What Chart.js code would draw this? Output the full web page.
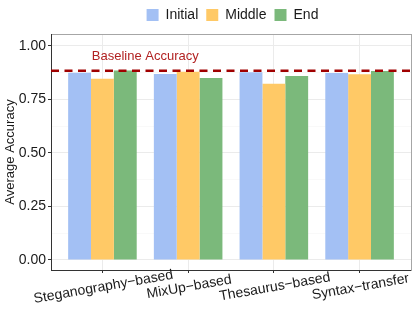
<!DOCTYPE html>
<html>
<head>
<meta charset="utf-8">
<script src="https://cdn.jsdelivr.net/npm/chart.js@4"></script>
<style>
  html, body { margin: 0; padding: 0; background: #fff; }
  #wrap { width: 415px; height: 332px; }
</style>
</head>
<body>
<div id="wrap"><canvas id="chart" width="415" height="332"></canvas></div>
<script>
// data
const categories = ['Steganography\u2212based', 'MixUp\u2212based', 'Thesaurus\u2212based', 'Syntax\u2212transfer'];
const seriesNames = ['Initial', 'Middle', 'End'];
const initialValues = [0.875, 0.869, 0.877, 0.874];
const middleValues = [0.847, 0.880, 0.824, 0.868];
const endValues = [0.885, 0.850, 0.860, 0.883];
const baselineAccuracy = 0.884;
const baselineLabel = 'Baseline Accuracy';
const yTicks = [0, 0.125, 0.25, 0.375, 0.5, 0.625, 0.75, 0.875, 1.0];

const FONT = '"Liberation Sans", Arial, Helvetica, sans-serif';
const colors = ['#a3c0f4', '#ffc966', '#7bb97b'];

function toPoints(values) {
    return values.map((v, i) => ({ x: i, y: v }));
}

// x labels are rotated but centred under the tick, like ggplot
const extraText = {
    id: 'extraText',
    afterLayout(chart) {
        // legend is centred over the panel, not the whole canvas
        chart.legend.left = 54;
    },
    afterDraw(chart) {
        const ctx = chart.ctx;
        const x = chart.scales.x;
        const y = chart.scales.y;
        ctx.save();
        ctx.font = '14px ' + FONT;
        ctx.fillStyle = '#1a1a1a';
        ctx.textAlign = 'center';
        ctx.textBaseline = 'middle';
        categories.forEach((c, i) => {
            ctx.save();
            ctx.translate(x.getPixelForValue(i) + 1, chart.chartArea.bottom + 17);
            ctx.rotate(-10 * Math.PI / 180);
            ctx.fillText(c, 0, 0);
            ctx.restore();
        });
        ctx.font = '13px ' + FONT;
        ctx.fillStyle = '#b22222';
        ctx.fillText(baselineLabel, x.getPixelForValue(0.5), y.getPixelForValue(0.95));
        ctx.restore();
    }
};

const datasets = [initialValues, middleValues, endValues].map((vals, i) => ({
    type: 'bar',
    label: seriesNames[i],
    data: toPoints(vals),
    backgroundColor: colors[i],
    borderWidth: 0,
    categoryPercentage: 0.8,
    barPercentage: 1.0,
    order: 1
}));

datasets.push({
    type: 'line',
    label: 'baseline',
    data: [{ x: -0.6, y: baselineAccuracy }, { x: categories.length - 0.4, y: baselineAccuracy }],
    borderColor: '#a00000',
    borderWidth: 2.6,
    borderDash: [8, 5.5],
    pointRadius: 0,
    order: 0
});

new Chart(document.getElementById('chart'), {
    type: 'bar',
    data: { datasets: datasets },
    plugins: [extraText],
    options: {
        responsive: false,
        animation: false,
        devicePixelRatio: 1,
        layout: { padding: { left: 0, right: 4, top: 0, bottom: 0 } },
        plugins: {
            tooltip: { enabled: false },
            legend: {
                position: 'top',
                labels: {
                    boxWidth: 12,
                    boxHeight: 12,
                    padding: 8,
                    color: '#1a1a1a',
                    font: { family: FONT, size: 14 },
                    filter: item => item.datasetIndex < 3
                }
            }
        },
        scales: {
            x: {
                type: 'linear',
                position: 'bottom',
                min: -0.6,
                max: categories.length - 0.4,
                offset: false,
                afterBuildTicks: scale => {
                    scale.ticks = categories.map((c, i) => ({ value: i }));
                },
                afterFit: scale => { scale.height = 62; },
                grid: {
                    offset: false,
                    color: '#ebebeb',
                    tickColor: '#333333',
                    tickLength: 3
                },
                border: { display: true, color: '#333333', width: 1 },
                ticks: { display: false }
            },
            xTop: {
                type: 'linear',
                position: 'top',
                afterFit: scale => { scale.height = 2; },
                grid: { display: false },
                ticks: { display: false },
                border: { display: true, color: '#a6a6a6', width: 1 }
            },
            y: {
                type: 'linear',
                min: -0.047,
                max: 1.056,
                afterBuildTicks: scale => {
                    scale.ticks = yTicks.map(v => ({ value: v }));
                },
                afterFit: scale => { scale.width = 51; },
                grid: {
                    color: ctx => (ctx.tick && ctx.tick.value * 4 % 1 === 0) ? '#ebebeb' : '#f5f5f5',
                    lineWidth: ctx => (ctx.tick && ctx.tick.value * 4 % 1 === 0) ? 1 : 0.6,
                    tickColor: ctx => (ctx.tick && ctx.tick.value * 4 % 1 === 0) ? '#333333' : 'rgba(0,0,0,0)',
                    tickLength: 3
                },
                border: { display: true, color: '#333333', width: 1 },
                ticks: {
                    padding: 2,
                    color: '#1a1a1a',
                    font: { family: FONT, size: 14 },
                    callback: v => (v * 4 % 1 === 0) ? v.toFixed(2) : ''
                },
                title: {
                    display: true,
                    text: 'Average Accuracy',
                    color: '#1a1a1a',
                    font: { family: FONT, size: 13 },
                    padding: { top: 3, bottom: 0 }
                }
            },
            yRight: {
                type: 'linear',
                position: 'right',
                afterFit: scale => { scale.width = 0; },
                grid: { display: false },
                ticks: { display: false },
                border: { display: true, color: '#a6a6a6', width: 1 }
            }
        }
    }
});
</script>
</body>
</html>
